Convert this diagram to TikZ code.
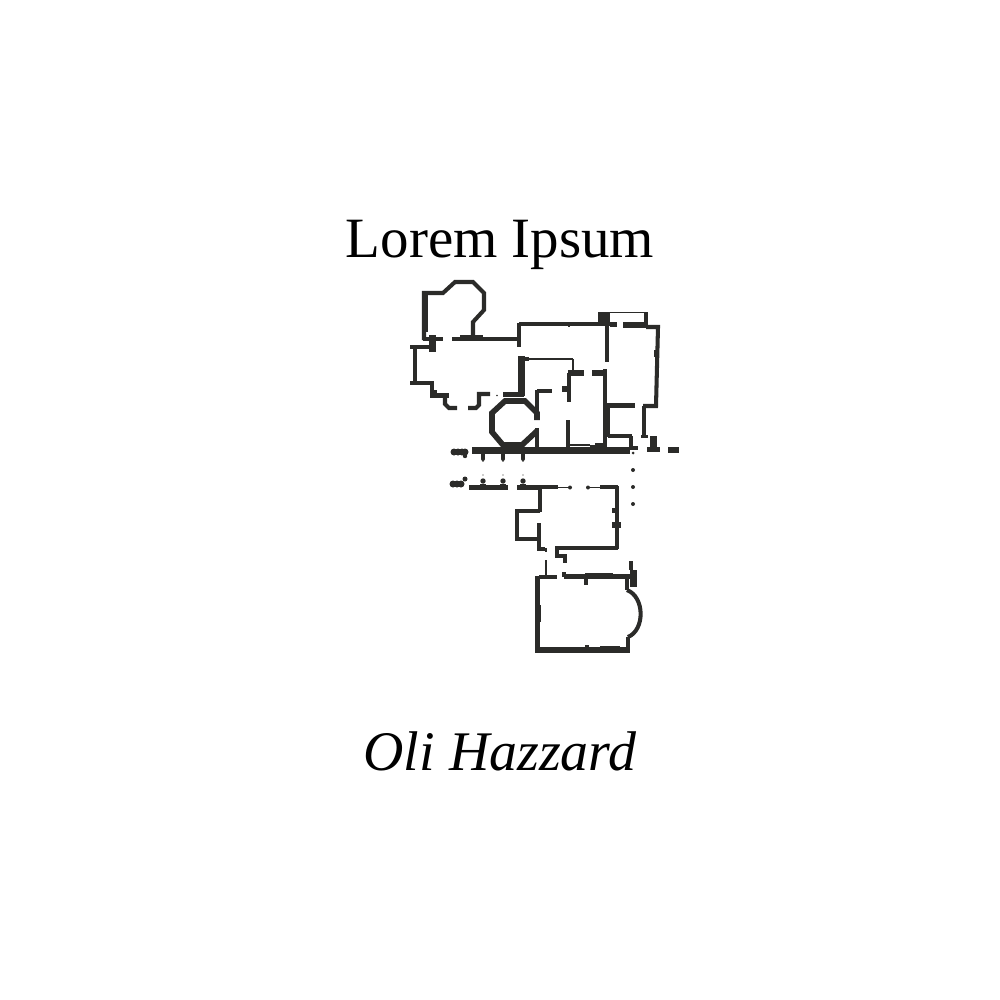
\documentclass[tikz,border=0pt]{standalone}
\usepackage{fontspec}
\setmainfont{Liberation Serif}
\definecolor{ink}{HTML}{2B2B29}
\tikzset{
  wall/.style={draw=ink,line width=1.15pt},
  fatwall/.style={draw=ink,line width=1.6pt},
  thinwall/.style={draw=ink,line width=.5pt},
  blk/.style={fill=ink},
}
\begin{document}
\begin{tikzpicture}[x=.01cm,y=-.01cm,line join=miter,line cap=butt]
\useasboundingbox (0,0) rectangle (1000,1000);
\node[anchor=base,font=\fontsize{16.2}{18}\selectfont,inner sep=0pt] (title) at (500,257) {Lorem Ipsum};
\node[anchor=base,font=\fontsize{15.9}{18}\selectfont\itshape,inner sep=0pt] (author) at (500,770) {Oli Hazzard};
% upper left room
\draw[wall] (424,340)--(424,293)--(443,293)--(455,282)--(473,282)--(484,293)--(484,310)--(473,322)--(473,337);
\fill[blk] (422,295) rectangle (428,332);
\draw[wall] (423,339)--(443,339);
\draw[wall] (452,339)--(520,339);
\fill[blk] (460,335) rectangle (483,340);
\fill[blk] (429,335) rectangle (436,352);
\draw[wall] (519,323)--(519,347);
% chapel
\draw[wall] (410,347)--(433,347);
\draw[wall] (415,347)--(415,384);
\draw[wall] (410,383)--(432,383)--(432,396);
\fill[blk] (430,390) rectangle (437,397);
\fill[blk] (430,393) rectangle (449,398);
\draw[wall] (445,395)--(445,404)--(449,408)--(457,408);
\draw[wall] (468,408)--(476,408)--(479,405)--(479,394)--(490,394);
\fill[blk] (497,395.500) circle (.9);
\draw[wall] (503,394.500)--(524,394.500);
\fill[blk] (518,356) rectangle (525,396);
\fill[blk] (525,357) rectangle (529,361);
% octagon
\draw[fatwall] (537,420)--(537,413)--(525,401)--(505,401)--(492,413)--(492,432)--(503,445)--(522,445)--(537,431);
\draw[thinwall] (522,446)--(537,430);
% main block
\draw[wall] (519,324)--(610,324);
\fill[blk] (598,312) rectangle (610,324);
\fill[blk] (568,325) rectangle (570,327);
\draw[thinwall] (610,312.500)--(647,312.500);
\draw[wall] (646,312)--(646,326);
\draw[wall] (610,324.500)--(617,324.500);
\draw[fatwall] (623,325)--(647,325);
\draw[wall] (646,327)--(658,327)--(656,406)--(643,406);
\draw[wall] (644,406)--(644,437);
\fill[blk] (641,435) rectangle (648,438);
\fill[blk] (654,350) rectangle (657,357);
\fill[blk] (650,436) rectangle (657,447);
\fill[blk] (647,447) rectangle (660,452);
\fill[blk] (668,447) rectangle (679,453);
\draw[wall] (607,325)--(607,362);
\draw[wall] (605,369)--(605,450);
\draw[fatwall] (592,373)--(606,373);
\draw[fatwall] (568,373)--(584,373);
\draw[wall] (569,373)--(569,402);
\fill[blk] (562,386) rectangle (568,392);
\draw[thinwall] (573,359)--(573,373);
\draw[thinwall] (525,359)--(573,359);
\draw[wall] (537,391)--(552,391);
\draw[wall] (537,390)--(537,420);
\draw[wall] (537,428)--(537,450);
\draw[wall] (568,420)--(568,448);
\draw[thinwall] (568,445)--(590,445);
% long corridor wall
\fill[blk] (472,447) rectangle (630,454);
\fill[blk] (590,445) rectangle (605,454);
\fill[blk] (595,443) rectangle (606,450);
\draw[wall] (608,405)--(608,437);
\draw[wall] (606,405.500)--(635,405.500);
\draw[wall] (608,436)--(632,436);
\draw[wall] (631,436)--(631,450);
\draw[wall] (630,448)--(638,448);
% colonnade
\foreach \px in {454,458,462,465} \fill[blk] (\px,452) circle (3.500);
\fill[blk] (465,456) circle (2.200);
\foreach \px in {483,503,523} {
  \fill[blk] (\px-2,454) rectangle (\px+2,459);
  \fill[blk] (\px,459) circle (2);
  \fill[blk] (\px,461) circle (.8);
  \fill[blk] (\px-3,484) rectangle (\px+3,487);
  \fill[blk] (\px,481) circle (2.700);
  \fill[blk] (\px,475) circle (.6);
}
\foreach \px in {453,457,461} \fill[blk] (\px,484) circle (3.500);
\fill[blk] (465,479) circle (2.500);
\fill[blk] (469,485) rectangle (508,489.500);
\fill[blk] (517,485) rectangle (541,489.500);
% lower court
\draw[wall] (540,487)--(558,487);
\draw[thinwall] (558,487.500)--(570,487.500);
\fill[blk] (570,487.500) circle (2);
\fill[blk] (588,487.500) circle (2);
\draw[thinwall] (588,487.500)--(600,487.500);
\draw[wall] (600,487)--(618,487);
\draw[wall] (617,486)--(617,549);
\fill[blk] (612,508) rectangle (617,513);
\fill[blk] (612,522) rectangle (621,528);
\draw[wall] (540,487)--(540,512);
\draw[wall] (540,511)--(517,511)--(517,539)--(540,539);
\draw[wall] (539,523)--(539,549)--(545,549);
\draw[thinwall] (546,548)--(546,552);
\draw[wall] (618,548)--(557,548)--(557,556)--(565,556)--(565,563);
\fill[blk] (633,453) circle (1.500);
\foreach \py in {470,487,504} \fill[blk] (633,\py) circle (2);
% lower hall
\draw[thinwall] (546,560)--(546,577);
\draw[wall] (539,577)--(557,577);
\draw[fatwall] (537.500,576)--(537.500,650)--(630,650);
\fill[blk] (534.500,605) rectangle (541,622);
\fill[blk] (600,646) rectangle (620,651);
\fill[blk] (585,645) rectangle (589,648);
\draw[wall] (628,651)--(628,637);
\draw[wall] (564,572)--(564,577);
\draw[wall] (564,576.500)--(630,576.500);
\fill[blk] (585,572.500) rectangle (613,576);
\draw[wall] (586,576)--(586,585);
\fill[blk] (630,570) rectangle (637,587);
\draw[wall] (631,561)--(631,570);
\draw[wall] (627,576)--(627,590);
\draw[wall] (627,590) .. controls (645,597) and (645,630) .. (628,637);
\end{tikzpicture}
\end{document}
